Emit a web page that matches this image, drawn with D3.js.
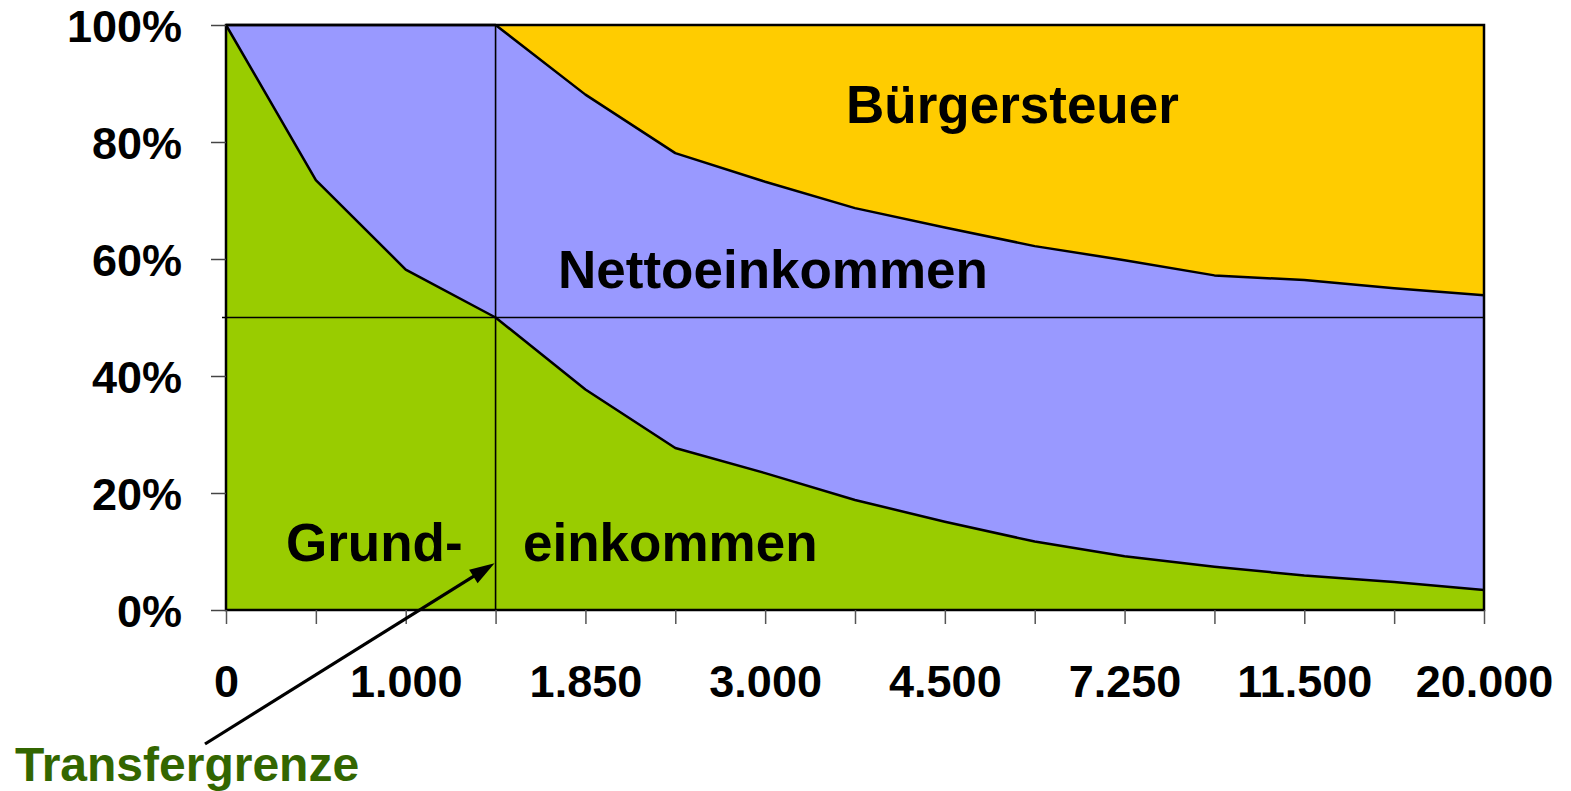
<!DOCTYPE html>
<html><head><meta charset="utf-8">
<script src="https://cdn.jsdelivr.net/npm/d3@7"></script>
<style>
body{margin:0;background:#fff}
text{font-family:"Liberation Sans",Arial,Helvetica,sans-serif;font-weight:bold}
</style>
</head><body>
<svg id="c" width="1571" height="791"></svg>
<script>
// ---- data ----
const tickLabels = ["0","","1.000","","1.850","","3.000","","4.500","","7.250","","11.500","","20.000"];
const grundeinkommen = [100, 73.5, 58.2, 50, 37.7, 27.7, 23.4, 18.8, 15.1, 11.7, 9.2, 7.4, 5.9, 4.8, 3.4];
const nettoeinkommen = [0, 26.5, 41.8, 50, 50.4, 50.4, 49.8, 49.9, 50.3, 50.5, 50.6, 49.8, 50.5, 50.2, 50.4];
const buergersteuer  = [0, 0, 0, 0, 11.9, 21.9, 26.8, 31.3, 34.6, 37.8, 40.2, 42.8, 43.6, 45.0, 46.2];
const yTicks = [0, 20, 40, 60, 80, 100];
const transferIndex = 3;
const referenceLine = 50;
const arrowTarget = 8;

(function () {
// ---- layout ----
const svg = d3.select("#c");
const pL = 226, pR = 1484, pT = 25, pB = 610;
const x = d3.scalePoint().domain(d3.range(tickLabels.length)).range([pL, pR]);
const y = d3.scaleLinear().domain([0, 100]).range([pB, pT]);

const rows = tickLabels.map((_, i) => ({i, g: grundeinkommen[i], n: nettoeinkommen[i], s: buergersteuer[i]}));
const layers = d3.stack().keys(["g", "n", "s"])(rows);
const colors = {g: "#99CC00", n: "#9999FF", s: "#FFCC00"};

const area = d3.area().x(d => x(d.data.i)).y0(d => y(d[0])).y1(d => y(d[1]));
svg.append("g").selectAll("path").data(layers).join("path")
  .attr("d", area).attr("fill", d => colors[d.key]);

// outlines of green and blue tops
const line = d3.line().x(d => x(d.data.i)).y(d => y(d[1]));
svg.append("g").selectAll("path").data(layers.slice(0, 2)).join("path")
  .attr("d", line).attr("fill", "none").attr("stroke", "#000").attr("stroke-width", 2.5)
  .attr("stroke-linejoin", "round");

// reference lines
svg.append("line").attr("x1", pL - 4).attr("x2", pR).attr("y1", y(referenceLine)).attr("y2", y(referenceLine))
  .attr("stroke", "#000").attr("stroke-width", 1.6);
svg.append("line").attr("x1", x(transferIndex)).attr("x2", x(transferIndex)).attr("y1", y(100)).attr("y2", y(0))
  .attr("stroke", "#000").attr("stroke-width", 1.6);

// plot frame
svg.append("rect").attr("x", pL).attr("y", pT).attr("width", pR - pL).attr("height", pB - pT)
  .attr("fill", "none").attr("stroke", "#000").attr("stroke-width", 2.5);

// axes
const yAxis = svg.append("g").attr("transform", `translate(${pL},0)`)
  .call(d3.axisLeft(y).tickValues(yTicks).tickSize(15).tickPadding(29).tickFormat(d => d + "%"));
yAxis.select(".domain").remove();
yAxis.selectAll(".tick line").attr("stroke", "#444").attr("stroke-width", 1.5);
yAxis.selectAll("text").attr("font-size", 45).attr("fill", "#000").attr("dy", "0.36em")
  .style("font-family", '"Liberation Sans",Arial,sans-serif').style("font-weight", "bold");

const xAxis = svg.append("g").attr("transform", `translate(0,${pB})`)
  .call(d3.axisBottom(x).tickSize(14).tickPadding(41).tickFormat(i => tickLabels[i]));
xAxis.select(".domain").remove();
xAxis.selectAll(".tick line").attr("stroke", "#555").attr("stroke-width", 1.5);
xAxis.selectAll("text").attr("font-size", 45).attr("fill", "#000")
  .style("font-family", '"Liberation Sans",Arial,sans-serif').style("font-weight", "bold");

// region labels
const labels = [
  {t: "Bürgersteuer", x: 846, y: 123, s: 53, c: "#000"},
  {t: "Nettoeinkommen", x: 558, y: 288, s: 53, c: "#000"},
  {t: "Grund-", x: 286, y: 561, s: 53, c: "#000"},
  {t: "einkommen", x: 523, y: 561, s: 53, c: "#000"},
  {t: "Transfergrenze", x: 15, y: 781, s: 48, c: "#336600"}
];
svg.append("g").selectAll("text").data(labels).join("text")
  .attr("x", d => d.x).attr("y", d => d.y).attr("font-size", d => d.s).attr("fill", d => d.c).text(d => d.t);

// arrow
const tip = [x(transferIndex) - 1, y(arrowTarget)];
const tail = [205, 744];
const dx = tip[0] - tail[0], dy = tip[1] - tail[1], L = Math.hypot(dx, dy);
const ux = dx / L, uy = dy / L, hl = 25, hw = 8;
const base = [tip[0] - ux * hl, tip[1] - uy * hl];
svg.append("line").attr("x1", tail[0]).attr("y1", tail[1]).attr("x2", base[0] + ux * 2).attr("y2", base[1] + uy * 2)
  .attr("stroke", "#000").attr("stroke-width", 3.2);
svg.append("polygon").attr("points", [
  tip, [base[0] - uy * hw, base[1] + ux * hw], [base[0] + uy * hw, base[1] - ux * hw]
].map(p => p.join(",")).join(" ")).attr("fill", "#000");
})();
</script>
</body></html>
